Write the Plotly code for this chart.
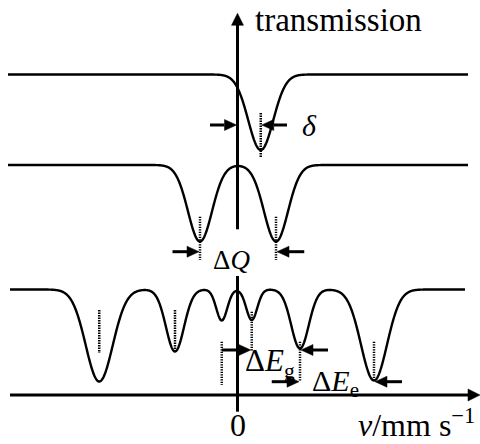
import numpy as np
import plotly.graph_objects as go

# ---------------- data (schematic Mössbauer spectra, velocity in mm/s) ----------------
singlet_pos = [0.93]
singlet_depth = [0.755]
singlet_width = [0.50]

doublet_pos = [-1.50, 1.54]
doublet_depth = [0.765, 0.765]
doublet_width = [0.48, 0.48]

sextet_pos = [-5.53, -2.50, -0.63, 0.57, 2.50, 5.46]
sextet_depth = [0.92, 0.62, 0.31, 0.305, 0.59, 0.91]
sextet_width = [0.54, 0.36, 0.22, 0.22, 0.35, 0.52]

baselines = [3.205, 2.30, 1.055]
tick_labels = ["0"]
axis_titles = ["transmission", "<i>v</i>/mm s<sup>\u22121</sup>"]
marker_labels = ["<i>\u03b4</i>", "\u0394<i>Q</i>",
                 "\u0394<i>E</i><sub>g</sub>", "\u0394<i>E</i><sub>e</sub>"]

# ---------------- layout constants ----------------
XR = [-9.5, 9.7]      # 25 px per unit
YR = [-0.49, 3.95]    # 100 px per unit
PX = 25.0
PY = 100.0
FONT = "'Liberation Serif', 'Times New Roman', Times, serif"
BLACK = "#000000"

fig = go.Figure()


def spectrum(v, base, pos, depth, width):
    y = np.full_like(v, base)
    for p, d, w in zip(pos, depth, width):
        y = y - d * np.exp(-(v - p) ** 2 / (2 * w * w))
    return y


def line(xs, ys, width=2.4, dash=None):
    fig.add_trace(go.Scatter(x=xs, y=ys, mode="lines", hoverinfo="skip",
                             line=dict(color=BLACK, width=width, dash=dash,
                                       simplify=False)))


def tri(xs, ys):
    fig.add_trace(go.Scatter(x=xs, y=ys, mode="lines", fill="toself",
                             fillcolor=BLACK, hoverinfo="skip",
                             line=dict(color=BLACK, width=0.5)))


HL = 12.0   # head length px
HW = 5.5    # head half-width px


def harrow(x_from, x_tip, y):
    d = np.sign(x_tip - x_from)
    base = x_tip - d * HL / PX
    line([x_from, base], [y, y], width=3)
    tri([x_tip, base, base, x_tip], [y, y + HW / PY, y - HW / PY, y])


def dotted(x, y0, y1):
    line([x, x], [y0, y1], width=2.5, dash="1.4px,1.1px")


# ---------------- spectra ----------------
v_full = np.linspace((8 - 237.5) / PX, (468 - 237.5) / PX, 1200)
v_sext = np.linspace((10 - 237.5) / PX, (465 - 237.5) / PX, 1200)
line(v_full, spectrum(v_full, baselines[0], singlet_pos, singlet_depth, singlet_width))
line(v_full, spectrum(v_full, baselines[1], doublet_pos, doublet_depth, doublet_width))
line(v_sext, spectrum(v_sext, baselines[2], sextet_pos, sextet_depth, sextet_width))

# ---------------- axes ----------------
x_tip = XR[1]
line([(10 - 237.5) / PX, x_tip - 11 / PX], [0, 0], width=3)
tri([x_tip, x_tip - 12 / PX, x_tip - 12 / PX, x_tip], [0, 6 / PY, -6 / PY, 0])
y_tip = (395 - 13.3) / PY
line([0, 0], [(395 - 411.7) / PY, (395 - 276) / PY], width=3)
line([0, 0], [(395 - 229.3) / PY, y_tip - 11 / PY], width=3)
tri([0, -6 / PX, 6 / PX, 0], [y_tip, y_tip - 12 / PY, y_tip - 12 / PY, y_tip])

# ---------------- dotted guide lines ----------------
dotted(singlet_pos[0], 2.82, 2.37)
for p in doublet_pos:
    dotted(p, 1.783, 1.35)
sext_guides = [(0.85, 0.42), (0.85, 0.43), (0.533, 0.10),
               (0.833, 0.433), (0.533, 0.133), (0.533, 0.15)]
for p, (a, b) in zip(sextet_pos, sext_guides):
    dotted(p, a, b)

# ---------------- measurement arrows ----------------
off = 1.0 / PX
harrow(-1.1, -off, 2.70)
harrow(singlet_pos[0] + 1.05, singlet_pos[0] + off, 2.70)

harrow(doublet_pos[0] - 1.1, doublet_pos[0] - off, 1.433)
harrow(doublet_pos[1] + 1.13, doublet_pos[1] + off, 1.433)

harrow(sextet_pos[2], sextet_pos[3] - off, 0.45)
harrow(sextet_pos[4] + 1.12, sextet_pos[4] + off, 0.45)

harrow(sextet_pos[4] - 1.13, sextet_pos[4] - off, 0.133)
harrow(sextet_pos[5] + 1.12, sextet_pos[5] + off, 0.133)


# ---------------- text ----------------
def text(s, x, y, size, xanchor="left", yanchor="top"):
    fig.add_annotation(text=s, x=x, y=y, xref="x", yref="y", showarrow=False,
                       xanchor=xanchor, yanchor=yanchor,
                       font=dict(family=FONT, size=size, color=BLACK),
                       borderpad=0)


text(axis_titles[0], (254 - 237.5) / PX, (395 - 0.5) / PY, 33)
text(marker_labels[0], (301 - 237.5) / PX, (395 - 108.3) / PY, 30)
text(marker_labels[1], (212 - 237.5) / PX, (395 - 244.2) / PY, 27)
text(marker_labels[2], (244 - 237.5) / PX, (395 - 341.6) / PY, 31)
text(marker_labels[3], (311 - 237.5) / PX, (395 - 362.5) / PY, 30)
text(tick_labels[0], 0, (395 - 443.5) / PY, 32, xanchor="center", yanchor="bottom")
text(axis_titles[1], (357 - 237.5) / PX, (395 - 443.5) / PY, 32, yanchor="bottom")

fig.update_layout(
    width=480, height=444, margin=dict(l=0, r=0, t=0, b=0),
    paper_bgcolor="white", plot_bgcolor="white", showlegend=False,
    xaxis=dict(range=XR, visible=False, fixedrange=True),
    yaxis=dict(range=YR, visible=False, fixedrange=True),
)
fig.write_html("out.html")
